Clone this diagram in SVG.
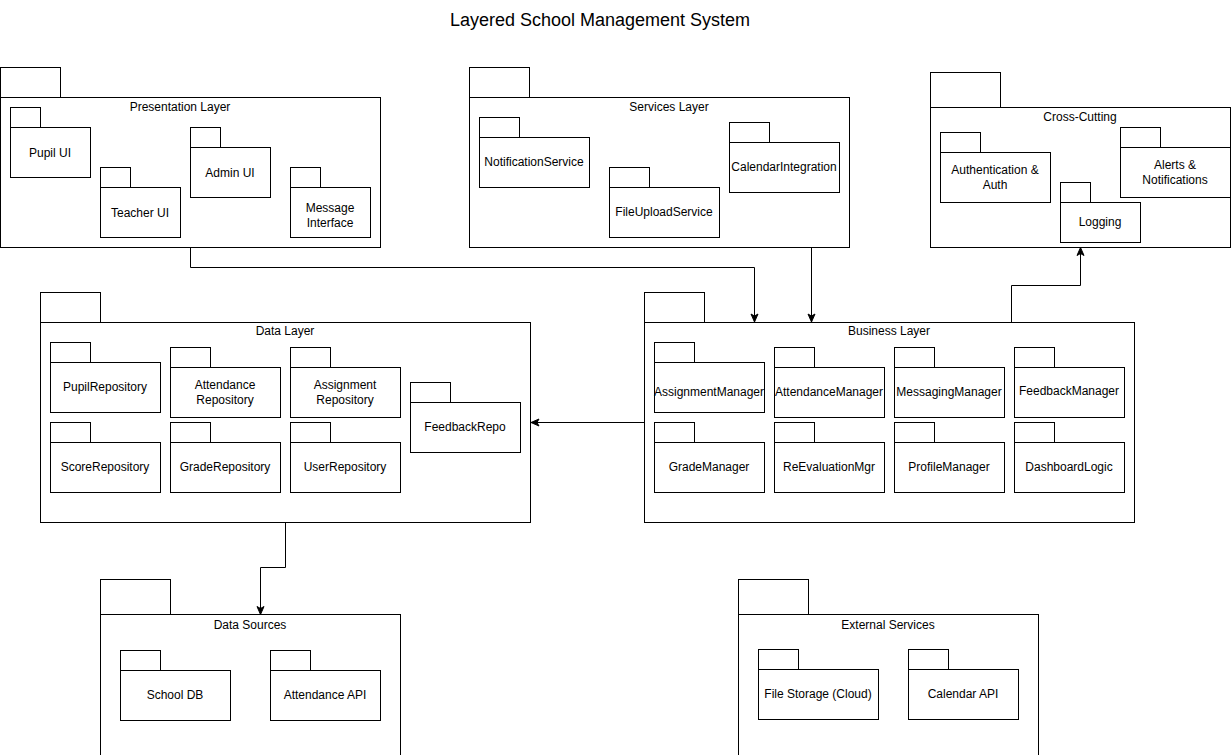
<svg xmlns="http://www.w3.org/2000/svg" width="1232" height="755" viewBox="0 0 1232 755">
<style>
.pk{fill:#fff;stroke:#000;stroke-width:1}
.t{font-family:"Liberation Sans",Arial,sans-serif;font-size:12px;fill:#000;text-anchor:middle}
.ttl{font-family:"Liberation Sans",Arial,sans-serif;font-size:18px;fill:#000;text-anchor:middle}
.e{fill:none;stroke:#000;stroke-width:1}
</style>
<defs>
<marker id="arr" markerUnits="userSpaceOnUse" markerWidth="10" markerHeight="10" viewBox="0 0 10 10" refX="9" refY="5" orient="auto">
<path d="M1,1.5 L9,5 L1,8.5 L3,5 Z" fill="#000" stroke="#000" stroke-width="1"/>
</marker>
</defs>
<rect width="1232" height="755" fill="#fff"/>
<text class="ttl" x="600" y="26">Layered School Management System</text>

<g id="presentation-layer">
<rect class="pk" x="0.5" y="67.5" width="60" height="30"/>
<rect class="pk" x="0.5" y="97.5" width="380" height="150"/>
<text class="t" x="180" y="111">Presentation Layer</text>
</g>
<g id="pupil-ui"><rect class="pk" x="10.5" y="107.5" width="30" height="20"/><rect class="pk" x="10.5" y="127.5" width="80" height="50"/><text class="t" x="50" y="157">Pupil UI</text></g>
<g id="teacher-ui"><rect class="pk" x="100.5" y="167.5" width="30" height="20"/><rect class="pk" x="100.5" y="187.5" width="80" height="50"/><text class="t" x="140" y="217">Teacher UI</text></g>
<g id="admin-ui"><rect class="pk" x="190.5" y="127.5" width="30" height="20"/><rect class="pk" x="190.5" y="147.5" width="80" height="50"/><text class="t" x="230" y="177">Admin UI</text></g>
<g id="message-interface"><rect class="pk" x="290.5" y="167.5" width="30" height="20"/><rect class="pk" x="290.5" y="187.5" width="80" height="50"/><text class="t" x="330" y="212">Message</text><text class="t" x="330" y="227">Interface</text></g>

<g id="services-layer">
<rect class="pk" x="469.5" y="67.5" width="60" height="30"/>
<rect class="pk" x="469.5" y="97.5" width="380" height="150"/>
<text class="t" x="669" y="111">Services Layer</text>
</g>
<g id="notification-service"><rect class="pk" x="479.5" y="117.5" width="40" height="20"/><rect class="pk" x="479.5" y="137.5" width="110" height="50"/><text class="t" x="534" y="166">NotificationService</text></g>
<g id="file-upload-service"><rect class="pk" x="609.5" y="167.5" width="40" height="20"/><rect class="pk" x="609.5" y="187.5" width="110" height="50"/><text class="t" x="664" y="216">FileUploadService</text></g>
<g id="calendar-integration"><rect class="pk" x="729.5" y="122.5" width="40" height="20"/><rect class="pk" x="729.5" y="142.5" width="110" height="50"/><text class="t" x="784" y="171">CalendarIntegration</text></g>

<g id="cross-cutting">
<rect class="pk" x="930.5" y="72.5" width="70" height="35"/>
<rect class="pk" x="930.5" y="107.5" width="300" height="140"/>
<text class="t" x="1080" y="121">Cross-Cutting</text>
</g>
<g id="authentication"><rect class="pk" x="940.5" y="132.5" width="40" height="20"/><rect class="pk" x="940.5" y="152.5" width="110" height="50"/><text class="t" x="995" y="174">Authentication &amp;</text><text class="t" x="995" y="189">Auth</text></g>
<g id="alerts-notifications"><rect class="pk" x="1120.5" y="127.5" width="40" height="20"/><rect class="pk" x="1120.5" y="147.5" width="110" height="50"/><text class="t" x="1175" y="169">Alerts &amp;</text><text class="t" x="1175" y="184">Notifications</text></g>
<g id="logging"><rect class="pk" x="1060.5" y="182.5" width="30" height="20"/><rect class="pk" x="1060.5" y="202.5" width="80" height="40"/><text class="t" x="1100" y="226">Logging</text></g>

<g id="data-layer">
<rect class="pk" x="40.5" y="292.5" width="60" height="30"/>
<rect class="pk" x="40.5" y="322.5" width="490" height="200"/>
<text class="t" x="285" y="335">Data Layer</text>
</g>
<g id="pupil-repository"><rect class="pk" x="50.5" y="342.5" width="40" height="20"/><rect class="pk" x="50.5" y="362.5" width="110" height="50"/><text class="t" x="105" y="391">PupilRepository</text></g>
<g id="attendance-repository"><rect class="pk" x="170.5" y="347.5" width="40" height="20"/><rect class="pk" x="170.5" y="367.5" width="110" height="50"/><text class="t" x="225" y="389">Attendance</text><text class="t" x="225" y="404">Repository</text></g>
<g id="assignment-repository"><rect class="pk" x="290.5" y="347.5" width="40" height="20"/><rect class="pk" x="290.5" y="367.5" width="110" height="50"/><text class="t" x="345" y="389">Assignment</text><text class="t" x="345" y="404">Repository</text></g>
<g id="feedback-repo"><rect class="pk" x="410.5" y="382.5" width="40" height="20"/><rect class="pk" x="410.5" y="402.5" width="110" height="50"/><text class="t" x="465" y="431">FeedbackRepo</text></g>
<g id="score-repository"><rect class="pk" x="50.5" y="422.5" width="40" height="20"/><rect class="pk" x="50.5" y="442.5" width="110" height="50"/><text class="t" x="105" y="471">ScoreRepository</text></g>
<g id="grade-repository"><rect class="pk" x="170.5" y="422.5" width="40" height="20"/><rect class="pk" x="170.5" y="442.5" width="110" height="50"/><text class="t" x="225" y="471">GradeRepository</text></g>
<g id="user-repository"><rect class="pk" x="290.5" y="422.5" width="40" height="20"/><rect class="pk" x="290.5" y="442.5" width="110" height="50"/><text class="t" x="345" y="471">UserRepository</text></g>

<g id="business-layer">
<rect class="pk" x="644.5" y="292.5" width="60" height="30"/>
<rect class="pk" x="644.5" y="322.5" width="490" height="200"/>
<text class="t" x="889" y="335">Business Layer</text>
</g>
<g id="assignment-manager"><rect class="pk" x="654.5" y="342.5" width="40" height="20"/><rect class="pk" x="654.5" y="362.5" width="110" height="50"/><text class="t" x="709" y="396">AssignmentManager</text></g>
<g id="attendance-manager"><rect class="pk" x="774.5" y="347.5" width="40" height="20"/><rect class="pk" x="774.5" y="367.5" width="110" height="50"/><text class="t" x="829" y="396">AttendanceManager</text></g>
<g id="messaging-manager"><rect class="pk" x="894.5" y="347.5" width="40" height="20"/><rect class="pk" x="894.5" y="367.5" width="110" height="50"/><text class="t" x="949" y="396">MessagingManager</text></g>
<g id="feedback-manager"><rect class="pk" x="1014.5" y="347.5" width="40" height="20"/><rect class="pk" x="1014.5" y="367.5" width="110" height="50"/><text class="t" x="1069" y="395">FeedbackManager</text></g>
<g id="grade-manager"><rect class="pk" x="654.5" y="422.5" width="40" height="20"/><rect class="pk" x="654.5" y="442.5" width="110" height="50"/><text class="t" x="709" y="471">GradeManager</text></g>
<g id="reevaluation-mgr"><rect class="pk" x="774.5" y="422.5" width="40" height="20"/><rect class="pk" x="774.5" y="442.5" width="110" height="50"/><text class="t" x="829" y="471">ReEvaluationMgr</text></g>
<g id="profile-manager"><rect class="pk" x="894.5" y="422.5" width="40" height="20"/><rect class="pk" x="894.5" y="442.5" width="110" height="50"/><text class="t" x="949" y="471">ProfileManager</text></g>
<g id="dashboard-logic"><rect class="pk" x="1014.5" y="422.5" width="40" height="20"/><rect class="pk" x="1014.5" y="442.5" width="110" height="50"/><text class="t" x="1069" y="471">DashboardLogic</text></g>

<g id="data-sources">
<rect class="pk" x="100.5" y="579.5" width="70" height="35"/>
<rect class="pk" x="100.5" y="614.5" width="300" height="145"/>
<text class="t" x="250" y="629">Data Sources</text>
</g>
<g id="school-db"><rect class="pk" x="120.5" y="650.5" width="40" height="20"/><rect class="pk" x="120.5" y="670.5" width="110" height="50"/><text class="t" x="175" y="699">School DB</text></g>
<g id="attendance-api"><rect class="pk" x="270.5" y="650.5" width="40" height="20"/><rect class="pk" x="270.5" y="670.5" width="110" height="50"/><text class="t" x="325" y="699">Attendance API</text></g>

<g id="external-services">
<rect class="pk" x="738.5" y="579.5" width="70" height="35"/>
<rect class="pk" x="738.5" y="614.5" width="300" height="145"/>
<text class="t" x="888" y="629">External Services</text>
</g>
<g id="file-storage"><rect class="pk" x="758.5" y="649.5" width="40" height="20"/><rect class="pk" x="758.5" y="669.5" width="120" height="50"/><text class="t" x="818" y="698">File Storage (Cloud)</text></g>
<g id="calendar-api"><rect class="pk" x="908.5" y="649.5" width="40" height="20"/><rect class="pk" x="908.5" y="669.5" width="110" height="50"/><text class="t" x="963" y="698">Calendar API</text></g>

<g id="connectors">
<path class="e" d="M190.5,247.5 V267.5 H754.5 V322" marker-end="url(#arr)"/>
<path class="e" d="M811.5,247.5 V322" marker-end="url(#arr)"/>
<path class="e" d="M1011.5,322.5 V285.5 H1080.5 V247.5" marker-end="url(#arr)"/>
<path class="e" d="M644.5,422.5 H531" marker-end="url(#arr)"/>
<path class="e" d="M285.5,522.5 V567.5 H260.5 V614.5" marker-end="url(#arr)"/>
</g>
</svg>
